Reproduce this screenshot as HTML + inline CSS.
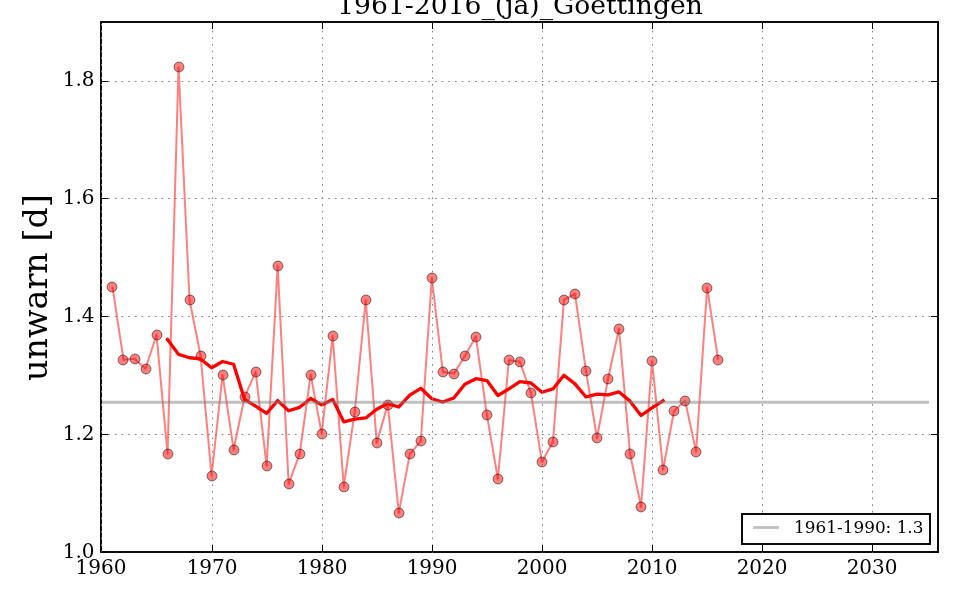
<!DOCTYPE html><html><head><meta charset="utf-8"><title>1961-2016_(ja)_Goettingen</title><style>
html,body{margin:0;padding:0;background:#fff;}body{width:960px;height:600px;overflow:hidden;}
svg{display:block;will-change:transform;}text{font-family:"DejaVu Serif","Liberation Serif",serif;fill:#000;}
</style></head><body>
<svg width="960" height="600" viewBox="0 0 960 600">
<rect x="0" y="0" width="960" height="600" fill="#fff"/>
<defs><clipPath id="ax"><rect x="101.0" y="22.0" width="837.0" height="530.0"/></clipPath></defs>
<g clip-path="url(#ax)">
<polyline points="112.47,286.70 123.48,359.70 134.49,358.70 145.51,368.70 156.52,334.70 167.53,453.90 178.54,66.90 189.55,299.70 200.57,355.80 211.58,475.50 222.59,374.90 233.60,449.70 244.61,396.80 255.63,371.90 266.64,465.80 277.65,265.80 288.66,483.80 299.67,453.80 310.69,374.60 321.70,433.60 332.71,336.00 343.72,486.80 354.73,411.60 365.75,299.80 376.76,442.60 387.77,404.60 398.78,512.75 409.79,454.10 420.81,441.00 431.82,278.00 442.83,372.00 453.84,373.60 464.85,356.00 475.87,336.60 486.88,414.80 497.89,478.75 508.90,360.00 519.91,361.75 530.93,393.00 541.94,461.90 552.95,441.85 563.96,299.80 574.97,293.80 585.99,370.80 597.00,438.00 608.01,378.75 619.02,328.75 630.03,453.70 641.05,506.70 652.06,361.00 663.07,469.60 674.08,410.70 685.09,400.70 696.11,451.70 707.12,287.50 718.13,359.70" fill="none" stroke="#f00" stroke-opacity="0.5" stroke-width="2.0" stroke-linejoin="round" stroke-linecap="butt"/>
<circle cx="112" cy="287" r="4.95" fill="#f00" fill-opacity="0.5" stroke="#000" stroke-opacity="0.5" stroke-width="1.0"/>
<circle cx="123" cy="360" r="4.95" fill="#f00" fill-opacity="0.5" stroke="#000" stroke-opacity="0.5" stroke-width="1.0"/>
<circle cx="135" cy="359" r="4.95" fill="#f00" fill-opacity="0.5" stroke="#000" stroke-opacity="0.5" stroke-width="1.0"/>
<circle cx="146" cy="369" r="4.95" fill="#f00" fill-opacity="0.5" stroke="#000" stroke-opacity="0.5" stroke-width="1.0"/>
<circle cx="157" cy="335" r="4.95" fill="#f00" fill-opacity="0.5" stroke="#000" stroke-opacity="0.5" stroke-width="1.0"/>
<circle cx="168" cy="454" r="4.95" fill="#f00" fill-opacity="0.5" stroke="#000" stroke-opacity="0.5" stroke-width="1.0"/>
<circle cx="179" cy="67" r="4.95" fill="#f00" fill-opacity="0.5" stroke="#000" stroke-opacity="0.5" stroke-width="1.0"/>
<circle cx="190" cy="300" r="4.95" fill="#f00" fill-opacity="0.5" stroke="#000" stroke-opacity="0.5" stroke-width="1.0"/>
<circle cx="201" cy="356" r="4.95" fill="#f00" fill-opacity="0.5" stroke="#000" stroke-opacity="0.5" stroke-width="1.0"/>
<circle cx="212" cy="476" r="4.95" fill="#f00" fill-opacity="0.5" stroke="#000" stroke-opacity="0.5" stroke-width="1.0"/>
<circle cx="223" cy="375" r="4.95" fill="#f00" fill-opacity="0.5" stroke="#000" stroke-opacity="0.5" stroke-width="1.0"/>
<circle cx="234" cy="450" r="4.95" fill="#f00" fill-opacity="0.5" stroke="#000" stroke-opacity="0.5" stroke-width="1.0"/>
<circle cx="245" cy="397" r="4.95" fill="#f00" fill-opacity="0.5" stroke="#000" stroke-opacity="0.5" stroke-width="1.0"/>
<circle cx="256" cy="372" r="4.95" fill="#f00" fill-opacity="0.5" stroke="#000" stroke-opacity="0.5" stroke-width="1.0"/>
<circle cx="267" cy="466" r="4.95" fill="#f00" fill-opacity="0.5" stroke="#000" stroke-opacity="0.5" stroke-width="1.0"/>
<circle cx="278" cy="266" r="4.95" fill="#f00" fill-opacity="0.5" stroke="#000" stroke-opacity="0.5" stroke-width="1.0"/>
<circle cx="289" cy="484" r="4.95" fill="#f00" fill-opacity="0.5" stroke="#000" stroke-opacity="0.5" stroke-width="1.0"/>
<circle cx="300" cy="454" r="4.95" fill="#f00" fill-opacity="0.5" stroke="#000" stroke-opacity="0.5" stroke-width="1.0"/>
<circle cx="311" cy="375" r="4.95" fill="#f00" fill-opacity="0.5" stroke="#000" stroke-opacity="0.5" stroke-width="1.0"/>
<circle cx="322" cy="434" r="4.95" fill="#f00" fill-opacity="0.5" stroke="#000" stroke-opacity="0.5" stroke-width="1.0"/>
<circle cx="333" cy="336" r="4.95" fill="#f00" fill-opacity="0.5" stroke="#000" stroke-opacity="0.5" stroke-width="1.0"/>
<circle cx="344" cy="487" r="4.95" fill="#f00" fill-opacity="0.5" stroke="#000" stroke-opacity="0.5" stroke-width="1.0"/>
<circle cx="355" cy="412" r="4.95" fill="#f00" fill-opacity="0.5" stroke="#000" stroke-opacity="0.5" stroke-width="1.0"/>
<circle cx="366" cy="300" r="4.95" fill="#f00" fill-opacity="0.5" stroke="#000" stroke-opacity="0.5" stroke-width="1.0"/>
<circle cx="377" cy="443" r="4.95" fill="#f00" fill-opacity="0.5" stroke="#000" stroke-opacity="0.5" stroke-width="1.0"/>
<circle cx="388" cy="405" r="4.95" fill="#f00" fill-opacity="0.5" stroke="#000" stroke-opacity="0.5" stroke-width="1.0"/>
<circle cx="399" cy="513" r="4.95" fill="#f00" fill-opacity="0.5" stroke="#000" stroke-opacity="0.5" stroke-width="1.0"/>
<circle cx="410" cy="454" r="4.95" fill="#f00" fill-opacity="0.5" stroke="#000" stroke-opacity="0.5" stroke-width="1.0"/>
<circle cx="421" cy="441" r="4.95" fill="#f00" fill-opacity="0.5" stroke="#000" stroke-opacity="0.5" stroke-width="1.0"/>
<circle cx="432" cy="278" r="4.95" fill="#f00" fill-opacity="0.5" stroke="#000" stroke-opacity="0.5" stroke-width="1.0"/>
<circle cx="443" cy="372" r="4.95" fill="#f00" fill-opacity="0.5" stroke="#000" stroke-opacity="0.5" stroke-width="1.0"/>
<circle cx="454" cy="374" r="4.95" fill="#f00" fill-opacity="0.5" stroke="#000" stroke-opacity="0.5" stroke-width="1.0"/>
<circle cx="465" cy="356" r="4.95" fill="#f00" fill-opacity="0.5" stroke="#000" stroke-opacity="0.5" stroke-width="1.0"/>
<circle cx="476" cy="337" r="4.95" fill="#f00" fill-opacity="0.5" stroke="#000" stroke-opacity="0.5" stroke-width="1.0"/>
<circle cx="487" cy="415" r="4.95" fill="#f00" fill-opacity="0.5" stroke="#000" stroke-opacity="0.5" stroke-width="1.0"/>
<circle cx="498" cy="479" r="4.95" fill="#f00" fill-opacity="0.5" stroke="#000" stroke-opacity="0.5" stroke-width="1.0"/>
<circle cx="509" cy="360" r="4.95" fill="#f00" fill-opacity="0.5" stroke="#000" stroke-opacity="0.5" stroke-width="1.0"/>
<circle cx="520" cy="362" r="4.95" fill="#f00" fill-opacity="0.5" stroke="#000" stroke-opacity="0.5" stroke-width="1.0"/>
<circle cx="531" cy="393" r="4.95" fill="#f00" fill-opacity="0.5" stroke="#000" stroke-opacity="0.5" stroke-width="1.0"/>
<circle cx="542" cy="462" r="4.95" fill="#f00" fill-opacity="0.5" stroke="#000" stroke-opacity="0.5" stroke-width="1.0"/>
<circle cx="553" cy="442" r="4.95" fill="#f00" fill-opacity="0.5" stroke="#000" stroke-opacity="0.5" stroke-width="1.0"/>
<circle cx="564" cy="300" r="4.95" fill="#f00" fill-opacity="0.5" stroke="#000" stroke-opacity="0.5" stroke-width="1.0"/>
<circle cx="575" cy="294" r="4.95" fill="#f00" fill-opacity="0.5" stroke="#000" stroke-opacity="0.5" stroke-width="1.0"/>
<circle cx="586" cy="371" r="4.95" fill="#f00" fill-opacity="0.5" stroke="#000" stroke-opacity="0.5" stroke-width="1.0"/>
<circle cx="597" cy="438" r="4.95" fill="#f00" fill-opacity="0.5" stroke="#000" stroke-opacity="0.5" stroke-width="1.0"/>
<circle cx="608" cy="379" r="4.95" fill="#f00" fill-opacity="0.5" stroke="#000" stroke-opacity="0.5" stroke-width="1.0"/>
<circle cx="619" cy="329" r="4.95" fill="#f00" fill-opacity="0.5" stroke="#000" stroke-opacity="0.5" stroke-width="1.0"/>
<circle cx="630" cy="454" r="4.95" fill="#f00" fill-opacity="0.5" stroke="#000" stroke-opacity="0.5" stroke-width="1.0"/>
<circle cx="641" cy="507" r="4.95" fill="#f00" fill-opacity="0.5" stroke="#000" stroke-opacity="0.5" stroke-width="1.0"/>
<circle cx="652" cy="361" r="4.95" fill="#f00" fill-opacity="0.5" stroke="#000" stroke-opacity="0.5" stroke-width="1.0"/>
<circle cx="663" cy="470" r="4.95" fill="#f00" fill-opacity="0.5" stroke="#000" stroke-opacity="0.5" stroke-width="1.0"/>
<circle cx="674" cy="411" r="4.95" fill="#f00" fill-opacity="0.5" stroke="#000" stroke-opacity="0.5" stroke-width="1.0"/>
<circle cx="685" cy="401" r="4.95" fill="#f00" fill-opacity="0.5" stroke="#000" stroke-opacity="0.5" stroke-width="1.0"/>
<circle cx="696" cy="452" r="4.95" fill="#f00" fill-opacity="0.5" stroke="#000" stroke-opacity="0.5" stroke-width="1.0"/>
<circle cx="707" cy="288" r="4.95" fill="#f00" fill-opacity="0.5" stroke="#000" stroke-opacity="0.5" stroke-width="1.0"/>
<circle cx="718" cy="360" r="4.95" fill="#f00" fill-opacity="0.5" stroke="#000" stroke-opacity="0.5" stroke-width="1.0"/>
<polyline points="167.53,339.56 178.54,354.38 189.55,357.75 200.57,358.95 211.58,367.78 222.59,361.52 233.60,364.24 244.61,399.41 255.63,406.22 266.64,413.29 277.65,400.61 288.66,410.78 299.67,407.32 310.69,398.50 321.70,404.93 332.71,399.36 343.72,421.81 354.73,419.11 365.75,417.95 376.76,409.17 387.77,403.57 398.78,406.99 409.79,395.10 420.81,388.28 431.82,398.73 442.83,402.02 453.84,397.96 464.85,384.24 475.87,378.68 486.88,380.58 497.89,395.48 508.90,388.91 519.91,381.66 530.93,383.00 541.94,392.22 552.95,388.95 563.96,375.31 574.97,383.83 585.99,397.00 597.00,394.10 608.01,394.80 619.02,391.96 630.03,401.14 641.05,415.49 652.06,407.92 663.07,400.80" fill="none" stroke="#f00" stroke-width="3.3" stroke-linejoin="round" stroke-linecap="square"/>
<line x1="101.0" y1="402.15" x2="929.0" y2="402.15" stroke="#808080" stroke-opacity="0.5" stroke-width="3.0"/>
</g>
<rect x="101.0" y="22.0" width="837.0" height="530.0" fill="none" stroke="#000" stroke-width="1.9" stroke-linecap="square"/>
<path d="M101.5 552.6V22M212.50 552.6V22.0M322.50 552.6V22.0M432.50 552.6V22.0M542.50 552.6V22.0M652.50 552.6V22.0M762.50 552.6V22.0M872.50 552.6V22.0M101.5 434.50H938.0M101.5 316.50H938.0M101.5 198.50H938.0M101.5 81.50H938.0" fill="none" stroke="#808080" stroke-width="1" stroke-dasharray="1.67 5"/>
<path d="M212.50 552.0v-7.0M212.50 22.0v7.0M322.50 552.0v-7.0M322.50 22.0v7.0M432.50 552.0v-7.0M432.50 22.0v7.0M542.50 552.0v-7.0M542.50 22.0v7.0M652.50 552.0v-7.0M652.50 22.0v7.0M762.50 552.0v-7.0M762.50 22.0v7.0M872.50 552.0v-7.0M872.50 22.0v7.0M101.0 552.00h7.0M938.0 552.00h-7.0M101.0 434.50h7.0M938.0 434.50h-7.0M101.0 316.50h7.0M938.0 316.50h-7.0M101.0 198.50h7.0M938.0 198.50h-7.0M101.0 81.50h7.0M938.0 81.50h-7.0" fill="none" stroke="#000" stroke-width="1"/>
<text x="101.00" y="574.2" font-size="20" text-anchor="middle">1960</text>
<text x="212.10" y="574.2" font-size="20" text-anchor="middle">1970</text>
<text x="322.10" y="574.2" font-size="20" text-anchor="middle">1980</text>
<text x="432.10" y="574.2" font-size="20" text-anchor="middle">1990</text>
<text x="542.10" y="574.2" font-size="20" text-anchor="middle">2000</text>
<text x="652.10" y="574.2" font-size="20" text-anchor="middle">2010</text>
<text x="762.10" y="574.2" font-size="20" text-anchor="middle">2020</text>
<text x="872.10" y="574.2" font-size="20" text-anchor="middle">2030</text>
<text x="94.6" y="557.70" font-size="20" text-anchor="end">1.0</text>
<text x="94.6" y="439.85" font-size="20" text-anchor="end">1.2</text>
<text x="94.6" y="321.85" font-size="20" text-anchor="end">1.4</text>
<text x="94.6" y="203.75" font-size="20" text-anchor="end">1.6</text>
<text x="94.6" y="86.00" font-size="20" text-anchor="end">1.8</text>
<text x="520" y="13.9" font-size="26.6" text-anchor="middle">1961-2016_(ja)_Goettingen</text>
<text transform="translate(47,287.6) rotate(-90)" x="0" y="0" font-size="33.33" text-anchor="middle">unwarn [d]</text>
<rect x="742" y="514" width="188" height="30" fill="#fff" stroke="#000" stroke-width="1.9"/>
<line x1="753.1" y1="527.5" x2="779" y2="527.5" stroke="#808080" stroke-opacity="0.5" stroke-width="2.8"/>
<text x="794.1" y="532.75" font-size="16.87">1961-1990: 1.3</text>
</svg></body></html>
